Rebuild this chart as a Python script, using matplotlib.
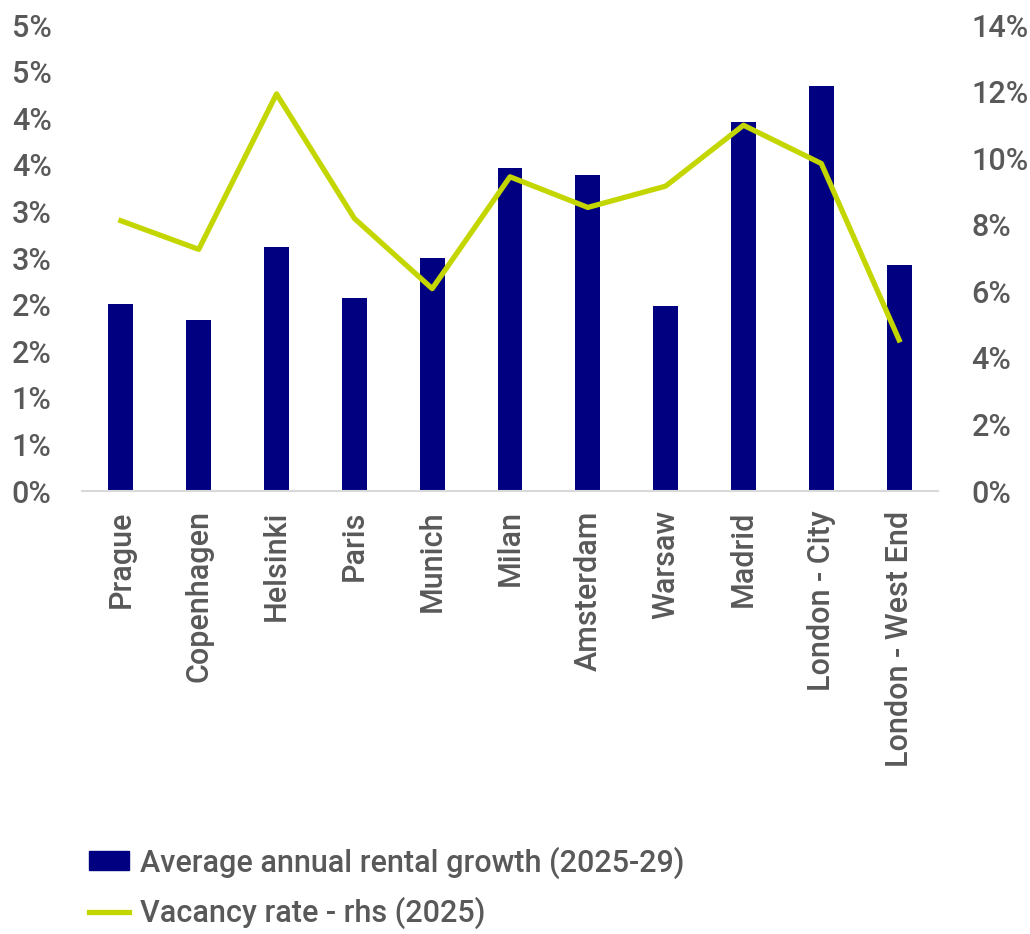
import math
import matplotlib
matplotlib.use("Agg")
import matplotlib.pyplot as plt
from matplotlib.ticker import FuncFormatter, MultipleLocator
from matplotlib.patches import Patch
from matplotlib.lines import Line2D

# 城市与两组数据
cities = ["Prague", "Copenhagen", "Helsinki", "Paris", "Munich", "Milan",
          "Amsterdam", "Warsaw", "Madrid", "London - City", "London - West End"]
rental_growth = [2.01, 1.84, 2.62, 2.07, 2.50, 3.47, 3.39, 1.98, 3.96, 4.35, 2.42]
vacancy_rate = [8.12, 7.26, 11.93, 8.19, 6.08, 9.44, 8.52, 9.16, 10.99, 9.84, 4.54]

BAR_COLOR = "#000080"
LINE_COLOR = "#c4d600"
TEXT_COLOR = "#595959"

plt.rcParams["font.family"] = ["Roboto", "DejaVu Sans"]
plt.rcParams["font.weight"] = 500

fig = plt.figure(figsize=(10.30, 9.34), dpi=100)
ax = fig.add_axes([0.0796, 0.4743, 0.8311, 0.4989])
ax2 = ax.twinx()

x = list(range(len(cities)))
ax.bar(x, rental_growth, width=0.32, color=BAR_COLOR, zorder=2)
ax2.plot(x, vacancy_rate, color=LINE_COLOR, linewidth=3.8, zorder=3)

ax.set_xlim(-0.5, len(cities) - 0.5)
ax.set_ylim(0, 5)
ax2.set_ylim(0, 14)
ax.yaxis.set_major_locator(MultipleLocator(0.5))
ax2.yaxis.set_major_locator(MultipleLocator(2))

# 左轴按整数百分比四舍五入显示
ax.yaxis.set_major_formatter(FuncFormatter(lambda v, p: f"{math.floor(v + 0.5)}%"))
ax2.yaxis.set_major_formatter(FuncFormatter(lambda v, p: f"{v:.0f}%"))

ax.set_xticks(x)
ax.set_xticklabels(cities, rotation=90, fontsize=22, color=TEXT_COLOR)

for a in (ax, ax2):
    for s in a.spines.values():
        s.set_visible(False)
    a.tick_params(length=0, labelsize=22, labelcolor=TEXT_COLOR)
ax.spines["bottom"].set_visible(True)
ax.spines["bottom"].set_color("#d9d9d9")
ax.spines["bottom"].set_linewidth(1.5)
ax.tick_params(axis="y", pad=22)
ax.tick_params(axis="x", pad=14)
ax2.tick_params(axis="y", pad=24)

# 图例放在下方
handles = [Patch(color=BAR_COLOR), Line2D([], [], color=LINE_COLOR, linewidth=3.8)]
labels = ["Average annual rental growth (2025-29)", "Vacancy rate - rhs (2025)"]
fig.legend(handles, labels, loc="upper left", bbox_to_anchor=(0.075, 0.107),
           frameon=False, fontsize=22, labelcolor=TEXT_COLOR,
           handlelength=1.3, handleheight=0.6, handletextpad=0.35,
           labelspacing=0.6, borderaxespad=0)

fig.savefig("out.png", dpi=100)
